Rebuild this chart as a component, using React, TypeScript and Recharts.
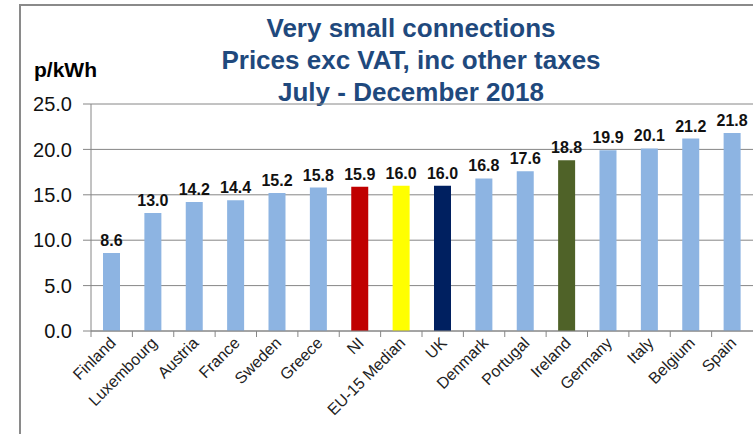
import React from "react";
import { BarChart, Bar, XAxis, YAxis, CartesianGrid, Cell, LabelList } from "recharts";

const categories = ["Finland", "Luxembourg", "Austria", "France", "Sweden", "Greece", "NI", "EU-15 Median", "UK", "Denmark", "Portugal", "Ireland", "Germany", "Italy", "Belgium", "Spain"];
const prices = [8.6, 13.0, 14.2, 14.4, 15.2, 15.8, 15.9, 16.0, 16.0, 16.8, 17.6, 18.8, 19.9, 20.1, 21.2, 21.8];
const yTicks = [0, 5, 10, 15, 20, 25];
const titleLines = ["Very small connections", "Prices exc VAT, inc other taxes", "July - December 2018"];
const unitLabel = "p/kWh";

const highlightColors: Record<string, string> = {
  NI: "#C00000",
  "EU-15 Median": "#FFFF00",
  UK: "#002060",
  Ireland: "#4F6228",
};
const defaultColor = "#8DB4E2";

const data = categories.map((name, i) => ({ name, value: prices[i] }));

const FONT = "'Liberation Sans', Arial, sans-serif";

const CategoryTick = (props: any) => {
  const { x, y, payload, band } = props;
  return (
    <g>
      <line x1={x - band / 2} x2={x - band / 2} y1={y} y2={y + 6} stroke="#868686" strokeWidth={1} />
      <text
        x={x + 5}
        y={y + 13}
        textAnchor="end"
        transform={`rotate(-45, ${x + 5}, ${y + 13})`}
        fontSize={16}
        fontFamily={FONT}
        fill="#222"
      >
        {payload.value}
      </text>
    </g>
  );
};

export default function App() {
  const W = 753;
  const H = 434;
  const left = 91;
  const band = (W - left) / categories.length;
  return (
    <div style={{ position: "absolute", left: 0, top: 0, width: W, height: H, overflow: "hidden", background: "#fff", fontFamily: FONT }}>
      <div style={{ position: "absolute", left: 19, top: 4, width: W, height: H, border: "2px solid #8a8a8a", boxSizing: "border-box" }} />
      <div style={{ position: "absolute", left: 0, width: 822, top: 12, textAlign: "center", color: "#1F497D", fontWeight: "bold", fontSize: 26, lineHeight: "32px" }}>
        {titleLines.map((t) => (
          <div key={t}>{t}</div>
        ))}
      </div>
      <div style={{ position: "absolute", left: 34, top: 58, color: "#000", fontWeight: "bold", fontSize: 21, lineHeight: "24px" }}>{unitLabel}</div>
      <BarChart
        width={W}
        height={H}
        data={data}
        margin={{ top: 104, right: 0, left: 0, bottom: 0 }}
        barCategoryGap="29%"
        style={{ position: "absolute", left: 0, top: 0 }}
      >
        <CartesianGrid vertical={false} stroke="#868686" strokeWidth={1} />
        <XAxis
          dataKey="name"
          interval={0}
          height={103}
          tickSize={0}
          tickMargin={0}
          tickLine={false}
          axisLine={{ stroke: "#868686" }}
          tick={<CategoryTick band={band} />}
        />
        <YAxis
          width={left}
          domain={[0, 25]}
          ticks={yTicks}
          interval={0}
          tickFormatter={(v: number) => v.toFixed(1)}
          tick={{ fontSize: 20, fill: "#111", fontFamily: FONT }}
          tickSize={8}
          tickMargin={11}
          tickLine={{ stroke: "#868686" }}
          axisLine={{ stroke: "#868686" }}
        />
        <Bar dataKey="value" isAnimationActive={false}>
          {data.map((d) => (
            <Cell key={d.name} fill={highlightColors[d.name] ?? defaultColor} />
          ))}
          <LabelList
            dataKey="value"
            position="top"
            offset={7}
            formatter={(v: any) => Number(v).toFixed(1)}
            style={{ fontSize: 16, fontWeight: "bold", fill: "#111", fontFamily: FONT }}
          />
        </Bar>
      </BarChart>
    </div>
  );
}
